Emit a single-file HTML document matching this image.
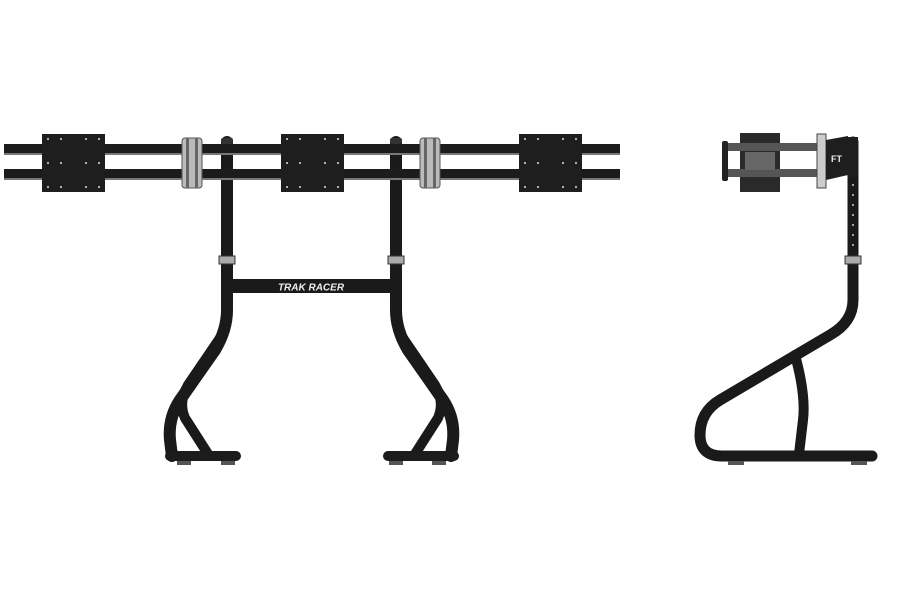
<!DOCTYPE html>
<html><head><style>html,body{margin:0;padding:0;background:#fff;width:900px;height:600px;overflow:hidden}</style></head>
<body>
<svg width="900" height="600" viewBox="0 0 900 600" xmlns="http://www.w3.org/2000/svg">
<defs>
<pattern id="holes" width="1" height="1"></pattern>
</defs>
<g fill="none" stroke="#1a1a1a" stroke-linecap="round" stroke-linejoin="round">
 <!-- left leg -->
 <path d="M227 300 L227 310 Q227 330 215 350 L180 400 Q168 418 170 440 L172 456" stroke-width="12"/>
 <path d="M222 335 L188 385 Q178 402 185 418 L208 454" stroke-width="10"/>
 <!-- right leg -->
 <path d="M396 300 L396 310 Q396 330 408 350 L443 400 Q455 418 453 440 L451 456" stroke-width="12"/>
 <path d="M401 335 L435 385 Q445 402 438 418 L415 454" stroke-width="10"/>
 <!-- posts -->
 <path d="M227 142 L227 305" stroke-width="12"/>
 <path d="M396 142 L396 305" stroke-width="12"/>
 <!-- side view frame -->
 <path d="M853 142 L853 300 Q853 322 830 335 L720 400 Q700 412 700 435 Q700 456 722 456 L872 456" stroke-width="11"/>
 <path d="M795 355 Q806 395 803 420 L799 454" stroke-width="10"/>
</g>
<!-- feet bars -->
<rect x="165" y="451" width="76" height="10" rx="5" fill="#1c1c1c"/>
<rect x="383" y="451" width="76" height="10" rx="5" fill="#1c1c1c"/>
<rect x="177" y="461" width="14" height="4" fill="#555"/><rect x="221" y="461" width="14" height="4" fill="#555"/>
<rect x="389" y="461" width="14" height="4" fill="#555"/><rect x="432" y="461" width="14" height="4" fill="#555"/>
<rect x="728" y="461" width="16" height="4" fill="#555"/><rect x="851" y="461" width="16" height="4" fill="#555"/>
<!-- collars -->
<rect x="219" y="256" width="16" height="8" fill="#aaa" stroke="#333" stroke-width="1"/>
<rect x="388" y="256" width="16" height="8" fill="#aaa" stroke="#333" stroke-width="1"/>
<rect x="845" y="256" width="16" height="8" fill="#aaa" stroke="#333" stroke-width="1"/>
<!-- crossbar -->
<rect x="233" y="279" width="157" height="14" fill="#1a1a1a"/>
<text x="311" y="290.5" text-anchor="middle" font-family="Liberation Sans, sans-serif" font-style="italic" font-weight="bold" font-size="10" fill="#eee">TRAK RACER</text>
<!-- rails -->
<rect x="4" y="144" width="616" height="9" fill="#1c1c1c"/>
<rect x="4" y="169" width="616" height="9" fill="#1c1c1c"/>
<rect x="4" y="153" width="616" height="2" fill="#777"/>
<rect x="4" y="178" width="616" height="2" fill="#777"/>
<!-- post caps -->
<rect x="221" y="138" width="12" height="6" rx="2" fill="#333"/>
<rect x="390" y="138" width="12" height="6" rx="2" fill="#333"/>
<!-- plates -->
<g fill="#1e1e1e">
<rect x="42" y="134" width="63" height="58"/>
<rect x="281" y="134" width="63" height="58"/>
<rect x="519" y="134" width="63" height="58"/>
</g>
<g fill="#ddd">
<circle cx="48" cy="139" r="1"/><circle cx="61" cy="139" r="1"/><circle cx="86" cy="139" r="1"/><circle cx="99" cy="139" r="1"/>
<circle cx="48" cy="163" r="1"/><circle cx="61" cy="163" r="1"/><circle cx="86" cy="163" r="1"/><circle cx="99" cy="163" r="1"/>
<circle cx="48" cy="187" r="1"/><circle cx="61" cy="187" r="1"/><circle cx="86" cy="187" r="1"/><circle cx="99" cy="187" r="1"/>
<circle cx="287" cy="139" r="1"/><circle cx="300" cy="139" r="1"/><circle cx="325" cy="139" r="1"/><circle cx="338" cy="139" r="1"/>
<circle cx="287" cy="163" r="1"/><circle cx="300" cy="163" r="1"/><circle cx="325" cy="163" r="1"/><circle cx="338" cy="163" r="1"/>
<circle cx="287" cy="187" r="1"/><circle cx="300" cy="187" r="1"/><circle cx="325" cy="187" r="1"/><circle cx="338" cy="187" r="1"/>
<circle cx="525" cy="139" r="1"/><circle cx="538" cy="139" r="1"/><circle cx="563" cy="139" r="1"/><circle cx="576" cy="139" r="1"/>
<circle cx="525" cy="163" r="1"/><circle cx="538" cy="163" r="1"/><circle cx="563" cy="163" r="1"/><circle cx="576" cy="163" r="1"/>
<circle cx="525" cy="187" r="1"/><circle cx="538" cy="187" r="1"/><circle cx="563" cy="187" r="1"/><circle cx="576" cy="187" r="1"/>
</g>
<!-- clamps -->
<g>
<rect x="182" y="138" width="20" height="50" rx="3" fill="#bbb" stroke="#555" stroke-width="1"/>
<rect x="186" y="138" width="3" height="50" fill="#666"/><rect x="195" y="138" width="3" height="50" fill="#666"/>
<rect x="420" y="138" width="20" height="50" rx="3" fill="#bbb" stroke="#555" stroke-width="1"/>
<rect x="424" y="138" width="3" height="50" fill="#666"/><rect x="433" y="138" width="3" height="50" fill="#666"/>
</g>
<!-- side monitor arm -->
<rect x="740" y="133" width="40" height="59" fill="#2a2a2a"/>
<rect x="725" y="143" width="100" height="8" fill="#555"/>
<rect x="725" y="169" width="100" height="8" fill="#555"/>
<rect x="722" y="141" width="6" height="40" rx="2" fill="#222"/>
<rect x="745" y="152" width="30" height="18" fill="#666"/>
<rect x="817" y="134" width="9" height="54" fill="#ccc" stroke="#444" stroke-width="1"/>
<path d="M826 140 L848 136 L848 175 L826 180 Z" fill="#1e1e1e"/>
<rect x="848" y="137" width="10" height="40" fill="#1e1e1e"/>
<text x="831" y="162" font-family="Liberation Sans, sans-serif" font-weight="bold" font-size="9" fill="#eee">FT</text>
<g fill="#ccc"><circle cx="853" cy="185" r="1"/><circle cx="853" cy="195" r="1"/><circle cx="853" cy="205" r="1"/><circle cx="853" cy="215" r="1"/><circle cx="853" cy="225" r="1"/><circle cx="853" cy="235" r="1"/><circle cx="853" cy="245" r="1"/></g>
</svg>
</body></html>
